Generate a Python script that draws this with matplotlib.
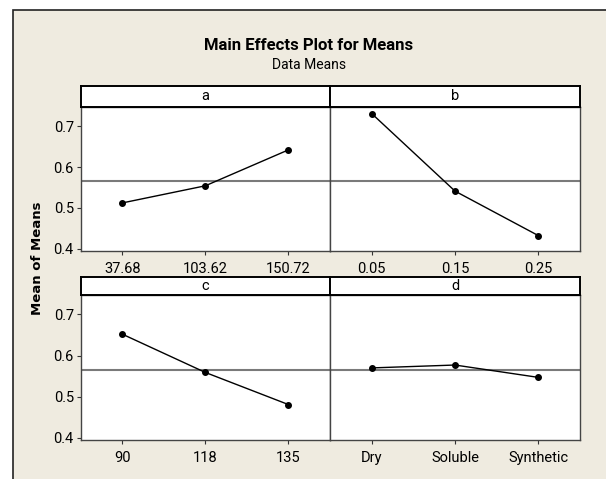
import matplotlib
matplotlib.use('Agg')
import matplotlib.pyplot as plt
from matplotlib.patches import Rectangle

# data
factors = ['a', 'b', 'c', 'd']
levels_a = ['37.68', '103.62', '150.72']
levels_b = ['0.05', '0.15', '0.25']
levels_c = ['90', '118', '135']
levels_d = ['Dry', 'Soluble', 'Synthetic']
means_a = [0.512, 0.554, 0.642]
means_b = [0.731, 0.541, 0.432]
means_c = [0.652, 0.559, 0.481]
means_d = [0.570, 0.577, 0.547]
grand_mean = 0.566

W, H = 606, 479
BG = '#efebe0'
FONT = ['Roboto', 'DejaVu Sans']

fig = plt.figure(figsize=(W / 100, H / 100), dpi=100)
fig.patch.set_facecolor('white')

def box(x0, y0, x1, y1):
    # pixel box (top-left origin) -> figure fractions
    return [x0 / W, (H - y1) / H, (x1 - x0) / W, (y1 - y0) / H]

fig.patches.append(Rectangle((13 / W, -0.01), 1.0, (H - 10) / H + 0.01,
                             transform=fig.transFigure, facecolor=BG,
                             edgecolor='#222222', linewidth=1.2, zorder=-10))

fig.text(309 / W, 1 - 45 / H, 'Main Effects Plot for Means', ha='center', va='center',
         fontsize=12, fontweight='bold', family=FONT)
fig.text(309 / W, 1 - 65 / H, 'Data Means', ha='center', va='center',
         fontsize=10, family=FONT)
fig.text(37.5 / W, 1 - 258 / H, 'Mean of Means', ha='center', va='center', rotation=90,
         fontsize=9.5, fontweight='bold', family='DejaVu Sans')

panels = [
    ('a', levels_a, means_a, (80.7, 107, 330, 250.7), (86, 107), True),
    ('b', levels_b, means_b, (330, 107, 580, 250.7), (86, 107), False),
    ('c', levels_c, means_c, (80.7, 295, 330, 440), (277, 295), True),
    ('d', levels_d, means_d, (330, 295, 580, 440), (277, 295), False),
]

for name, labels, vals, (x0, y0, x1, y1), (s0, s1), left in panels:
    ax = fig.add_axes(box(x0, y0, x1, y1))
    ax.set_facecolor('white')
    xs = range(len(labels))
    ax.axhline(grand_mean, color='#7a7a7a', linewidth=1.5, zorder=1)
    ax.plot(xs, vals, color='black', linewidth=1.0, marker='o', markersize=4, zorder=3)
    ax.set_xlim(-0.5, 2.5)
    ax.set_ylim(0.395, 0.747)
    ax.set_xticks(list(xs))
    ax.set_xticklabels(labels, family=FONT, fontsize=10.5)
    ax.set_yticks([0.4, 0.5, 0.6, 0.7])
    if left:
        ax.set_yticklabels(['0.4', '0.5', '0.6', '0.7'], family=FONT, fontsize=10.5)
    else:
        ax.tick_params(axis='y', left=False, labelleft=False)
    ax.tick_params(direction='out', length=3, width=0.8, color='#333333')
    ax.tick_params(axis='x', pad=5)
    ax.tick_params(axis='y', pad=2)
    for sp in ax.spines.values():
        sp.set_color('#444444')
        sp.set_linewidth(1.0)

    sax = fig.add_axes(box(x0, s0, x1, s1))
    sax.set_facecolor('white')
    sax.set_xticks([])
    sax.set_yticks([])
    for sp in sax.spines.values():
        sp.set_color('black')
        sp.set_linewidth(1.4)
    sax.text(0.5, 0.5, name, ha='center', va='center', transform=sax.transAxes,
             fontsize=10.5, family=FONT)

fig.savefig('out.png', dpi=100, facecolor=fig.get_facecolor())
